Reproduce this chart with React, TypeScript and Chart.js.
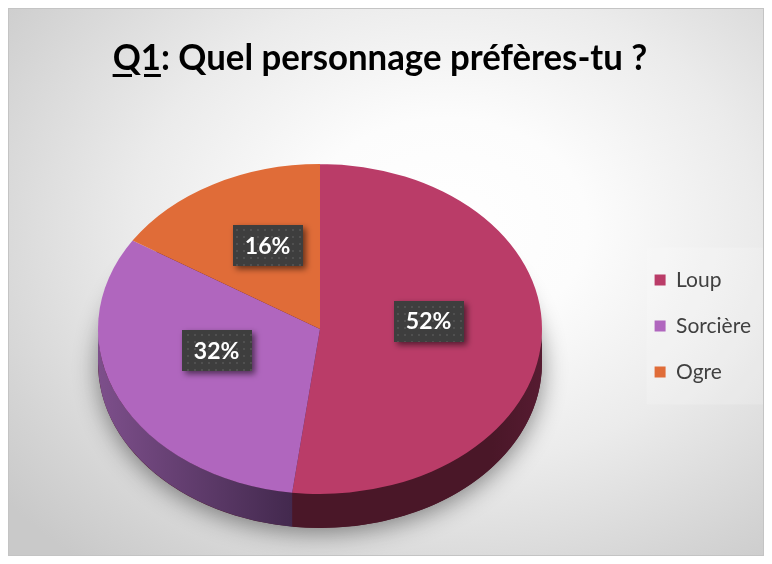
import React, { useEffect, useRef } from "react";
import { Chart, registerables } from "chart.js";

Chart.register(...registerables);

// ---- data ----
const categories = ["Loup", "Sorcière", "Ogre"];
const values = [52, 32, 16];
const valueLabels = ["52%", "32%", "16%"];
const colors = ["#BA3C68", "#B066BE", "#E06C38"];
const sideLight = ["#561b31", "#7d4f8b", "#9a4a22"];
const sideDark = ["#4a1728", "#43294e", "#7e3a18"];

// ---- geometry / style ----
const W = 756;
const H = 548;
const EX = 311; // ellipse centre x (canvas)
const EY = 320; // ellipse centre y (canvas)
const RX = 222;
const RY = 165;
const DEPTH = 34;
const LABEL_F = 0.49;
const LABEL_SHIFT = -13;

function makePattern(ctx: CanvasRenderingContext2D) {
  const c = document.createElement("canvas");
  c.width = 7;
  c.height = 7;
  const p = c.getContext("2d")!;
  p.fillStyle = "#3e3e3e";
  p.fillRect(0, 0, 7, 7);
  p.fillStyle = "#505050";
  p.fillRect(3, 3, 2, 2);
  return ctx.createPattern(c, "repeat");
}

const pie3d = {
  id: "pie3d",
  beforeDraw(chart: any) {
    const ctx = chart.ctx as CanvasRenderingContext2D;
    const lg = chart.legend;
    if (lg && lg.legendHitBoxes && lg.legendHitBoxes.length) {
      const hb = lg.legendHitBoxes;
      const top = hb[0].top - 22;
      const last = hb[hb.length - 1];
      const bottom = last.top + last.height + 22;
      const left = hb[0].left - 8;
      ctx.save();
      ctx.fillStyle = "rgba(255,255,255,0.18)";
      ctx.fillRect(left, top, chart.width - left, bottom - top);
      ctx.restore();
    }
  },
  beforeDatasetsDraw(chart: any) {
    const ctx = chart.ctx as CanvasRenderingContext2D;
    const arcs = chart.getDatasetMeta(0).data as any[];
    if (!arcs.length) return;
    const cx = arcs[0].x;
    const cy = arcs[0].y;
    const r = arcs[0].outerRadius;

    // soft shadow under the pie
    ctx.save();
    ctx.shadowColor = "rgba(0,0,0,0.45)";
    ctx.shadowBlur = 24;
    ctx.shadowOffsetY = 5;
    ctx.fillStyle = "#4a1728";
    ctx.beginPath();
    ctx.ellipse(EX, EY + DEPTH, RX, RY, 0, 0, Math.PI * 2);
    ctx.fill();
    ctx.restore();

    // side walls
    arcs.forEach((a: any, i: number) => {
      for (const off of [-2 * Math.PI, 0, 2 * Math.PI]) {
        const a1 = Math.max(a.startAngle + off, 0);
        const a2 = Math.min(a.endAngle + off, Math.PI);
        if (a2 <= a1) continue;
        const x1 = EX + Math.cos(a2) * RX;
        const x2 = EX + Math.cos(a1) * RX;
        const g = ctx.createLinearGradient(Math.min(x1, x2), 0, Math.max(x1, x2), 0);
        if (i === 0) {
          g.addColorStop(0, sideDark[i]);
          g.addColorStop(0.8, sideDark[i]);
          g.addColorStop(1, sideLight[i]);
        } else {
          g.addColorStop(0, sideLight[i]);
          g.addColorStop(1, sideDark[i]);
        }
        ctx.save();
        ctx.fillStyle = g;
        ctx.beginPath();
        ctx.ellipse(EX, EY, RX, RY, 0, a1, a2);
        ctx.ellipse(EX, EY + DEPTH, RX, RY, 0, a2, a1, true);
        ctx.closePath();
        ctx.fill();
        ctx.restore();
      }
    });

    // map the circle onto the top ellipse
    ctx.save();
    ctx.translate(EX, EY);
    ctx.scale(RX / r, RY / r);
    ctx.translate(-cx, -cy);
  },
  afterDatasetsDraw(chart: any) {
    const ctx = chart.ctx as CanvasRenderingContext2D;
    const arcs = chart.getDatasetMeta(0).data as any[];
    if (!arcs.length) return;
    ctx.restore();
    const pat = makePattern(ctx);
    arcs.forEach((a: any, i: number) => {
      const mid = (a.startAngle + a.endAngle) / 2;
      let x = EX + Math.cos(mid) * RX * LABEL_F;
      const y = EY + Math.sin(mid) * RY * LABEL_F + LABEL_SHIFT;
      if (i === 1) x -= 5;
      const bw = 70;
      const bh = 41;
      ctx.save();
      ctx.shadowColor = "rgba(0,0,0,0.55)";
      ctx.shadowBlur = 6;
      ctx.shadowOffsetX = 3;
      ctx.shadowOffsetY = 3;
      ctx.fillStyle = pat || "#3e3e3e";
      ctx.fillRect(Math.round(x - bw / 2), Math.round(y - bh / 2), bw, bh);
      ctx.restore();
      ctx.save();
      ctx.fillStyle = "#ffffff";
      ctx.font = "bold 23px Lato";
      ctx.textAlign = "center";
      ctx.textBaseline = "middle";
      ctx.fillText(valueLabels[i], x, y + 1);
      ctx.restore();
    });
  },
};

export default function App() {
  const ref = useRef<HTMLCanvasElement | null>(null);

  useEffect(() => {
    if (!ref.current) return;
    const chart = new Chart(ref.current, {
      type: "pie",
      data: {
        labels: categories,
        datasets: [
          {
            data: values,
            backgroundColor: colors,
            borderWidth: 0,
            clip: false as any,
          },
        ],
      },
      options: {
        responsive: false,
        animation: false,
        events: [],
        layout: { padding: { top: 90, bottom: 2, left: 0, right: 2 } },
        plugins: {
          title: { display: false },
          tooltip: { enabled: false },
          legend: {
            position: "right",
            align: "center",
            labels: {
              boxWidth: 11,
              boxHeight: 11,
              padding: 25,
              color: "#404040",
              font: { family: "Lato", size: 21 },
            },
          },
        },
      },
      plugins: [pie3d as any],
    });
    return () => chart.destroy();
  }, []);

  return (
    <div
      style={{
        position: "relative",
        width: W,
        height: H,
        boxSizing: "border-box",
        border: "1px solid #c4c4c4",
        background:
          "radial-gradient(ellipse 75% 80% at 58% 40%, #ffffff 0%, #fcfcfc 25%, #ebebeb 55%, #d4d4d4 85%, #c9c9c9 100%)",
        overflow: "hidden",
      }}
    >
      <canvas ref={ref} width={W - 2} height={H - 2} style={{ position: "absolute", left: 0, top: 0 }} />
      <div
        style={{
          position: "absolute",
          left: 0,
          width: W - 14,
          top: 28,
          textAlign: "center",
          fontFamily: "Lato, sans-serif",
          fontWeight: 700,
          fontSize: 37,
          lineHeight: "37px",
          color: "#000",
          whiteSpace: "nowrap",
          transform: "scaleX(0.94)",
          transformOrigin: "50% 50%",
        }}
      >
        <span style={{ textDecoration: "underline", textDecorationThickness: 3, textUnderlineOffset: 4 }}>Q1</span>
        : Quel personnage préfères-tu ?
      </div>
    </div>
  );
}
